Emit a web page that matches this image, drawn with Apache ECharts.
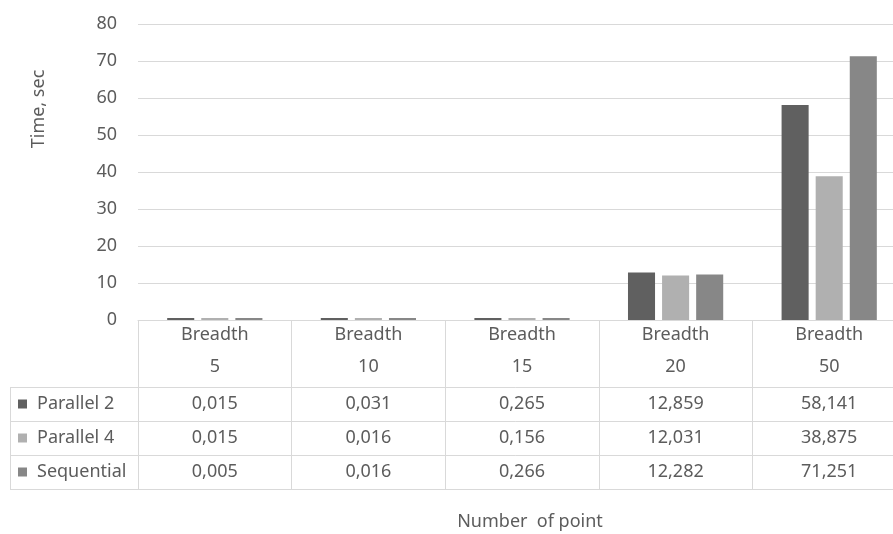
<!DOCTYPE html>
<html>
<head>
<meta charset="utf-8">
<script src="https://cdn.jsdelivr.net/npm/echarts@6/dist/echarts.min.js"></script>
<style>
  html, body { margin: 0; padding: 0; background: #ffffff; }
  #chart { width: 893px; height: 534px; }
</style>
</head>
<body>
<div id="chart"></div>
<script>
// Breadth values (categories along x)
var breadths = [5, 10, 15, 20, 50];
// Timings in seconds per run mode
var seriesNames = ['Parallel 2', 'Parallel 4', 'Sequential'];
var parallel2 = [0.015, 0.031, 0.265, 12.859, 58.141];
var parallel4 = [0.015, 0.016, 0.156, 12.031, 38.875];
var sequential = [0.005, 0.016, 0.266, 12.282, 71.251];
var yTicks = [0, 10, 20, 30, 40, 50, 60, 70, 80];

var colors = ['#606060', '#b0b0b0', '#878787'];
var textColor = '#5c5c5c';
var lineColor = '#d9d9d9';
var font = '"Noto Sans", "Open Sans", sans-serif';
var fs = 18;

var values = [parallel2, parallel4, sequential];
var categories = breadths.map(function (b) { return 'Breadth\n' + b; });

function fmt(v) { return v.toFixed(3).replace('.', ','); }

// geometry of the data table under the plot (it runs past the right edge)
var gridLeft = 138, gridWidth = 768;
var gridTop = 24, gridBottomY = 320, headerH = 67, rowH = 34;
var tableLeft = 10;

// one extra category axis per table row, each showing a series' values
var rowAxes = values.map(function (arr, i) {
  return {
    type: 'category',
    gridIndex: 0,
    position: 'bottom',
    offset: headerH + rowH * i,
    data: arr.map(fmt),
    axisLine: { show: true, onZero: false, lineStyle: { color: lineColor, width: 1 } },
    axisTick: { show: true, interval: 0, length: rowH, lineStyle: { color: lineColor } },
    axisLabel: { interval: 0, margin: 0, color: textColor, fontSize: fs, fontFamily: font, lineHeight: rowH },
    splitLine: { show: false }
  };
});

var xAxes = [{
  type: 'category',
  gridIndex: 0,
  data: categories,
  axisLine: { show: true, onZero: false, lineStyle: { color: lineColor, width: 1 } },
  axisTick: { show: true, interval: 0, length: headerH, lineStyle: { color: lineColor } },
  axisLabel: { interval: 0, margin: -1, color: textColor, fontSize: fs, fontFamily: font, lineHeight: 32 },
  splitLine: { show: false }
}].concat(rowAxes);

var series = seriesNames.map(function (name, i) {
  return {
    name: name,
    type: 'bar',
    xAxisIndex: 0,
    data: values[i],
    barGap: '26%',
    barCategoryGap: '38%',
    barMinHeight: 2,
    itemStyle: { color: colors[i] },
    emphasis: { disabled: true }
  };
});

// table borders in the legend column and the closing bottom line
var tableBottom = gridBottomY + headerH + rowH * values.length;
var graphics = [];
for (var r = 0; r <= values.length; r++) {
  var y = gridBottomY + headerH + rowH * r + 0.5;
  graphics.push({
    type: 'line', silent: true,
    shape: { x1: tableLeft, y1: y, x2: r === values.length ? gridLeft + gridWidth : gridLeft, y2: y },
    style: { stroke: lineColor, lineWidth: 1 }
  });
}
graphics.push({
  type: 'line', silent: true,
  shape: { x1: tableLeft + 0.5, y1: gridBottomY + headerH, x2: tableLeft + 0.5, y2: tableBottom },
  style: { stroke: lineColor, lineWidth: 1 }
});
graphics.push({
  type: 'line', silent: true,
  shape: { x1: gridLeft + 0.5, y1: gridBottomY, x2: gridLeft + 0.5, y2: tableBottom },
  style: { stroke: lineColor, lineWidth: 1 }
});
// axis titles
graphics.push({
  type: 'text', silent: true,
  x: 39, y: 109, rotation: Math.PI / 2,
  style: { text: 'Time, sec', fill: textColor, font: fs + 'px ' + font, textAlign: 'center', textVerticalAlign: 'middle' }
});
graphics.push({
  type: 'text', silent: true,
  x: 530, y: 522,
  style: { text: 'Number  of point', fill: textColor, font: fs + 'px ' + font, textAlign: 'center', textVerticalAlign: 'middle' }
});

var chart = echarts.init(document.getElementById('chart'), null, { renderer: 'canvas' });
chart.setOption({
  animation: false,
  backgroundColor: '#ffffff',
  textStyle: { fontFamily: font },
  grid: {
    left: gridLeft, width: gridWidth, top: gridTop, bottom: 534 - gridBottomY,
    containLabel: false, outerBoundsMode: 'none'
  },
  legend: {
    data: seriesNames,
    orient: 'vertical',
    left: 18,
    top: gridBottomY + headerH,
    padding: 0,
    itemGap: 0,
    itemWidth: 9,
    itemHeight: 9,
    icon: 'rect',
    selectedMode: false,
    textStyle: { color: textColor, fontSize: fs, fontFamily: font, lineHeight: rowH, padding: [0, 0, 0, 5] }
  },
  xAxis: xAxes,
  yAxis: {
    type: 'value',
    min: yTicks[0],
    max: yTicks[yTicks.length - 1],
    interval: yTicks[1] - yTicks[0],
    axisLine: { show: false },
    axisTick: { show: false },
    axisLabel: { margin: 21, color: textColor, fontSize: fs, fontFamily: font },
    splitLine: { lineStyle: { color: lineColor, width: 1 } }
  },
  series: series,
  graphic: graphics
});
</script>
</body>
</html>
